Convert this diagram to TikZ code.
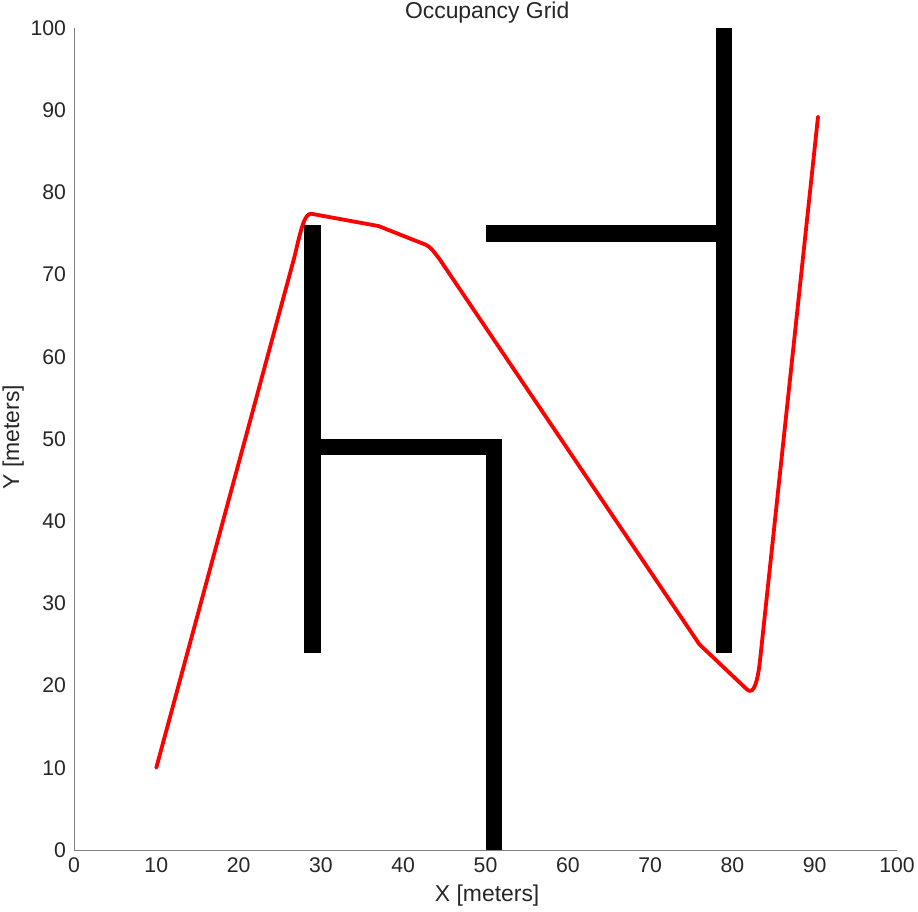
\documentclass[tikz,border=0pt]{standalone}
\usepackage{fontspec}
\setmainfont{Liberation Sans}
\usepackage{tikz}
\usetikzlibrary{positioning}
\definecolor{ejeGris}{RGB}{128,128,128}
\definecolor{textoGris}{RGB}{38,38,38}
\definecolor{rutaRoja}{RGB}{255,0,0}

\begin{document}
\begin{tikzpicture}[
  x=8.23bp, y=8.22bp,
  axis/.style    = {draw=ejeGris, line width=0.8bp},
  ticklab/.style = {font=\fontsize{21.3}{25}\selectfont, text=textoGris, inner sep=0pt},
  axlab/.style   = {font=\fontsize{23}{27}\selectfont, text=textoGris, inner sep=0pt},
  wall/.style    = {fill=black, draw=none},
  route/.style   = {draw=rutaRoja, line width=3.8bp, line join=round, line cap=round},
]
% ── Marco de la figura ───────────────────────────────────────
\useasboundingbox (-8.99,-7.54) rectangle (102.55,103.4);

% ── Ejes ─────────────────────────────────────────────────────
\draw[axis] (0,100) -- (0,0) -- (100,0);
\foreach \v in {0,10,...,100}{
  \node[ticklab, anchor=north] (xt\v) at (\v,-0.9) {\v};
  \node[ticklab, anchor=east]  (yt\v) at (-0.95,\v) {\v};
}
\node[axlab] (xlab)  at (50.2,-5.6) {X [meters]};
\node[axlab, rotate=90] (ylab) at (-7.4,50.2) {Y [meters]};
\node[axlab] (title) at (50.2,101.9) {Occupancy Grid};

% ── Obstaculos ───────────────────────────────────────────────
\fill[wall] (28,24) rectangle (30,76);
\fill[wall] (30,48) rectangle (52,50);
\fill[wall] (50,0)  rectangle (52,48);
\fill[wall] (50,74) rectangle (78,76);
\fill[wall] (78,24) rectangle (80,100);

% ── Trayectoria ──────────────────────────────────────────────
\draw[route] (10,10) -- (26.8,72.2)
  .. controls (27.6,75.6) and (28,77.4) .. (28.8,77.4)
  -- (37,75.9) -- (42.8,73.6)
  .. controls (43.4,73.2) .. (44.4,71.9)
  -- (76,25) -- (81.8,19.5)
  .. controls (82.6,18.8) and (83.1,20.5) .. (83.4,23.5)
  -- (90.4,89.2);
\end{tikzpicture}
\end{document}
